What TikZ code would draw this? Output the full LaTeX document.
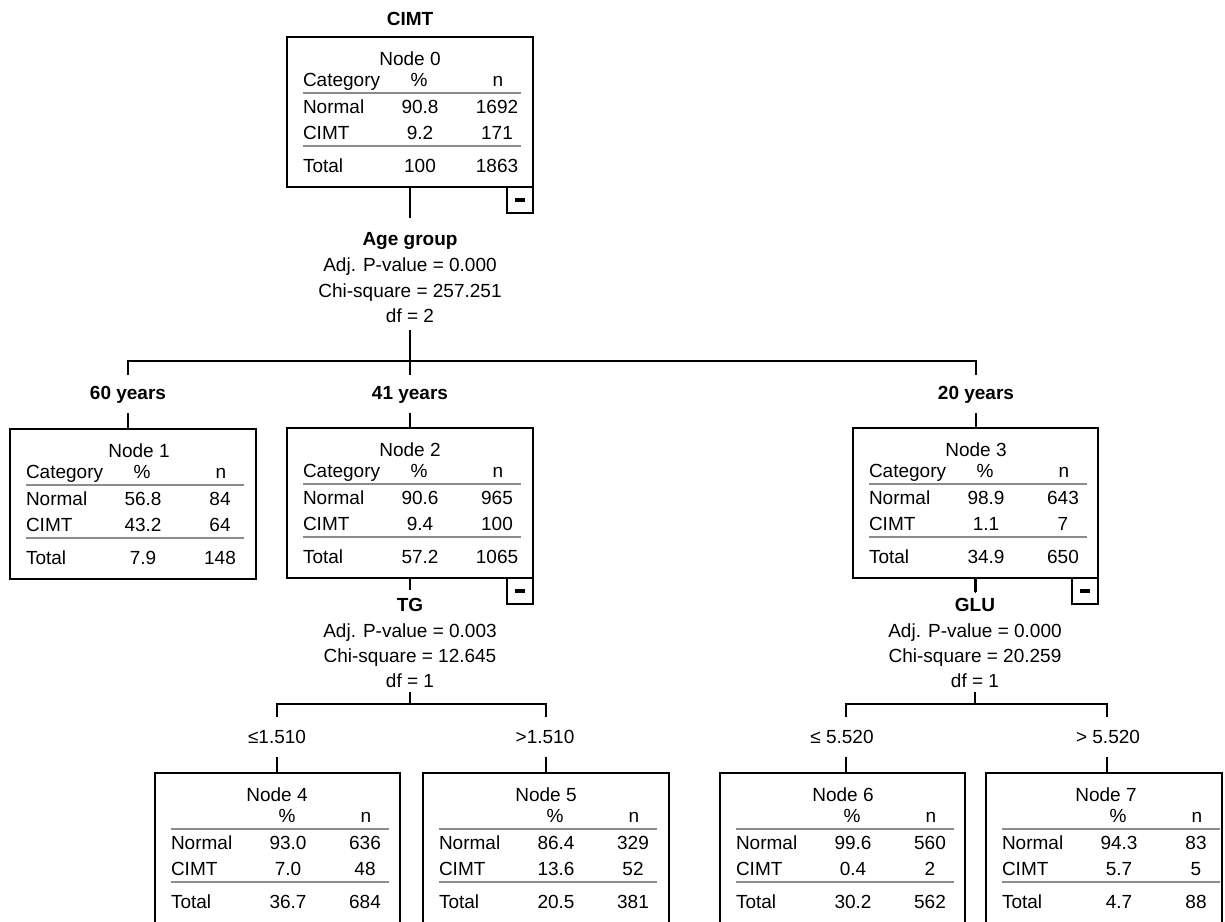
\documentclass[tikz,border=0pt]{standalone}
\usepackage{fontspec}
\setmainfont{Liberation Sans}
\definecolor{linegray}{RGB}{140,140,140}
\tikzset{
  every node/.style={inner sep=0pt, outer sep=0pt, font=\fontsize{19pt}{23pt}\selectfont},
  tbox/.style={draw, line width=2.1pt, anchor=north west, minimum height=150pt},
  obox/.style={draw, line width=2.1pt, anchor=north west, minimum height=220pt},
  conn/.style={line width=2.8pt, line join=miter},
  gline/.style={line width=1.8pt, draw=linegray},
  minusbox/.style={draw, line width=2.1pt, minimum width=26pt, minimum height=26pt, anchor=north east},
  lbl/.style={anchor=base},
  bl/.style={anchor=base, font=\fontsize{19pt}{23pt}\selectfont\bfseries},
}
% #1 left, #2 top, #3 label, #4 label x, #5 category text, #6 prefix
\newcommand\tabhead[6]{%
  \node[lbl] (#6lab) at (#4,#2+28) {#3};
  \node[anchor=base west] (#6cat) at (#1+16,#2+49) {#5};
  \node[lbl] (#6pc) at (#1+132,#2+49) {\%};
  \node[lbl] (#6nn) at (#1+211,#2+49) {n};
  \draw[gline] (#1+16,#2+56) -- (#1+234,#2+56);
  \draw[gline] (#1+16,#2+109) -- (#1+234,#2+109);
}
% #1 left, #2 top, #3 prefix, #4-#9 values
\newcommand\tabrows[9]{%
  \node[anchor=base west] (#3ra) at (#1+16,#2+76) {Normal};
  \node[lbl] (#3rb) at (#1+133,#2+76) {#4};
  \node[lbl] (#3rc) at (#1+210,#2+76) {#5};
  \node[anchor=base west] (#3sa) at (#1+16,#2+102) {CIMT};
  \node[lbl] (#3sb) at (#1+133,#2+102) {#6};
  \node[lbl] (#3sc) at (#1+210,#2+102) {#7};
  \node[anchor=base west] (#3ta) at (#1+16,#2+135) {Total};
  \node[lbl] (#3tb) at (#1+133,#2+135) {#8};
  \node[lbl] (#3tc) at (#1+210,#2+135) {#9};
}
\begin{document}
\begin{tikzpicture}[x=1pt,y=-1pt]
\useasboundingbox (0,0) rectangle (1225,921);
\clip (0,0) rectangle (1225,921);
\fill[white] (0,0) rectangle (1225,921);

% ---------- Node 0 ----------
\node[bl] (title) at (410,25) {CIMT};
\node[tbox, minimum width=246pt] (n0) at (287,37) {};
\node[minusbox] (m0) at (n0.south east) {\rule{10pt}{3.5pt}};
\tabhead{287}{37}{Node 0}{410}{Category}{h0}
\tabrows{287}{37}{r0}{90.8}{1692}{9.2}{171}{100}{1863}

% split text Age group
\node[bl] (s0a) at (410,245) {Age group};
\node[lbl] (s0b) at (410,271) {Adj. P-value = 0.000};
\node[lbl] (s0c) at (410,297) {Chi-square = 257.251};
\node[lbl] (s0d) at (410,322) {df = 2};

% ---------- Level 1 boxes ----------
\node[tbox, minimum width=246pt] (n1) at (10,429) {};
\tabhead{10}{429}{Node 1}{139}{Category}{h1}
\tabrows{10}{429}{r1}{56.8}{84}{43.2}{64}{7.9}{148}

\node[tbox, minimum width=246pt] (n2) at (287,428) {};
\node[minusbox] (m2) at (n2.south east) {\rule{10pt}{3.5pt}};
\tabhead{287}{428}{Node 2}{410}{Category}{h2}
\tabrows{287}{428}{r2}{90.6}{965}{9.4}{100}{57.2}{1065}

\node[tbox, minimum width=245pt] (n3) at (853,428) {};
\node[minusbox] (m3) at (n3.south east) {\rule{10pt}{3.5pt}};
\tabhead{853}{428}{Node 3}{976}{Category}{h3}
\tabrows{853}{428}{r3}{98.9}{643}{1.1}{7}{34.9}{650}

% level 1 labels
\node[bl] (l1) at (128,399) {60 years};
\node[bl] (l2) at (410,399) {41 years};
\node[bl] (l3) at (976,399) {20 years};

% TG split text
\node[bl] (s2a) at (410,611) {TG};
\node[lbl] (s2b) at (410,637) {Adj. P-value = 0.003};
\node[lbl] (s2c) at (410,662) {Chi-square = 12.645};
\node[lbl] (s2d) at (410,687) {df = 1};

% GLU split text
\node[bl] (s3a) at (975,611) {GLU};
\node[lbl] (s3b) at (975,637) {Adj. P-value = 0.000};
\node[lbl] (s3c) at (975,662) {Chi-square = 20.259};
\node[lbl] (s3d) at (975,687) {df = 1};

% level 2 labels
\node[lbl] (l4) at (277,743) {≤1.510};
\node[lbl] (l5) at (545,743) {>1.510};
\node[lbl] (l6) at (842,743) {≤ 5.520};
\node[lbl] (l7) at (1108,743) {> 5.520};

% ---------- Level 2 boxes (open at the bottom) ----------
\node[obox, minimum width=245pt] (n4) at (155,773) {};
\tabhead{155}{773}{Node 4}{277}{}{h4}
\tabrows{155}{773}{r4}{93.0}{636}{7.0}{48}{36.7}{684}

\node[obox, minimum width=246pt] (n5) at (423,773) {};
\tabhead{423}{773}{Node 5}{546}{}{h5}
\tabrows{423}{773}{r5}{86.4}{329}{13.6}{52}{20.5}{381}

\node[obox, minimum width=245pt] (n6) at (720,773) {};
\tabhead{720}{773}{Node 6}{843}{}{h6}
\tabrows{720}{773}{r6}{99.6}{560}{0.4}{2}{30.2}{562}

\node[obox, minimum width=236pt] (n7) at (986,773) {};
\tabhead{986}{773}{Node 7}{1106}{}{h7}
\tabrows{986}{773}{r7}{94.3}{83}{5.7}{5}{4.7}{88}

% ---------- connector coordinates ----------
\coordinate (c0a) at (410,218);
\coordinate (c0b) at (410,330);
\coordinate (c0m) at (410,361);
\coordinate (b1L) at (128,361);
\coordinate (b1R) at (976,361);
\coordinate (t1L) at (128,375);
\coordinate (t1M) at (410,375);
\coordinate (t1R) at (976,375);
\coordinate (u1L) at (128,413);
\coordinate (u1M) at (410,413);
\coordinate (u1R) at (976,413);

\coordinate (c2a) at (410,590);
\coordinate (c2b) at (410,692);
\coordinate (c2m) at (410,704);
\coordinate (b2L) at (277,704);
\coordinate (b2R) at (546,704);
\coordinate (t2L) at (277,717);
\coordinate (t2R) at (546,717);
\coordinate (u2L) at (277,757);
\coordinate (u2R) at (546,757);

\coordinate (c3a) at (975,592);
\coordinate (c3b) at (975,692);
\coordinate (c3m) at (975,704);
\coordinate (b3L) at (846,704);
\coordinate (b3R) at (1107,704);
\coordinate (t3L) at (846,717);
\coordinate (t3R) at (1107,717);
\coordinate (u3L) at (846,757);
\coordinate (u3R) at (1107,757);

% ---------- connectors ----------
\draw[conn] (n0.south) -- (c0a);
\draw[conn] (c0b) -- (c0m) -- (t1M);
\draw[conn] (t1L) -- (b1L) -- (b1R) -- (t1R);
\draw[conn] (u1L) -- (u1L |- n1.north);
\draw[conn] (u1M) -- (u1M |- n2.north);
\draw[conn] (u1R) -- (u1R |- n3.north);

\draw[conn] (n2.south) -- (c2a);
\draw[conn] (c2b) -- (c2m);
\draw[conn] (t2L) -- (b2L) -- (b2R) -- (t2R);
\draw[conn] (u2L) -- (u2L |- n4.north);
\draw[conn] (u2R) -- (u2R |- n5.north);

\draw[conn] (c3a -| n3.south) -- (c3a);
\draw[conn] (n3.south) -- (c3a -| n3.south);
\draw[conn] (c3b) -- (c3m);
\draw[conn] (t3L) -- (b3L) -- (b3R) -- (t3R);
\draw[conn] (u3L) -- (u3L |- n6.north);
\draw[conn] (u3R) -- (u3R |- n7.north);
\end{tikzpicture}
\end{document}
